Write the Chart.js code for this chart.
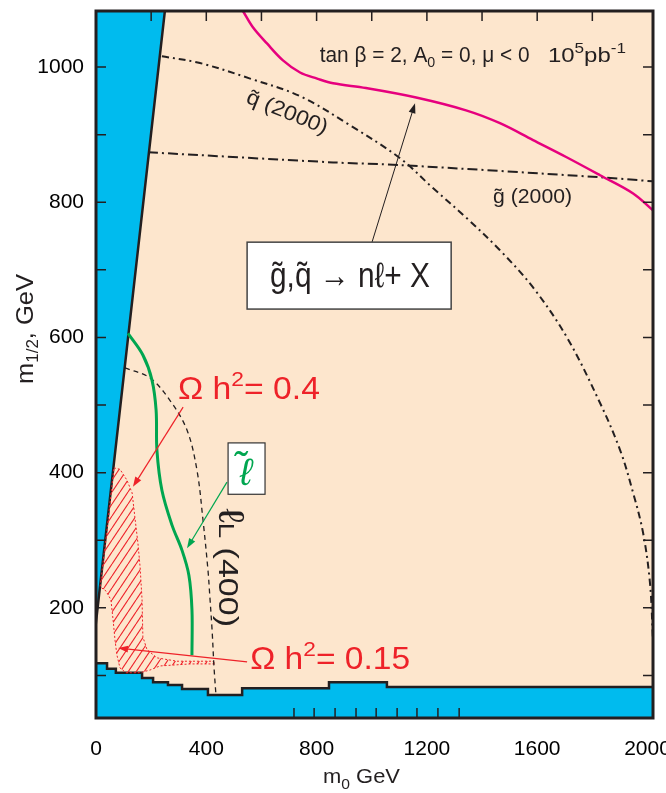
<!DOCTYPE html>
<html>
<head>
<meta charset="utf-8">
<script src="https://cdn.jsdelivr.net/npm/chart.js@4.4.1/dist/chart.umd.min.js"></script>
<style>
html,body{margin:0;padding:0;background:#ffffff;}
canvas{display:block;}
</style>
</head>
<body>
<canvas id="c" width="666" height="793"></canvas>
<script>
// ================= DATA (m0, m1/2 in GeV) =================
const xTickLabels = [0, 400, 800, 1200, 1600, 2000];
const yTickLabels = [200, 400, 600, 800, 1000];
const yMinorTicks = [100, 200, 300, 400, 500, 600, 700, 800, 900, 1000];
const xTopTicks = [200, 400, 600, 800, 1000, 1200, 1400, 1600, 1800];
const xBottomMarks = [718, 791, 867, 943, 1016, 1092, 1164, 1240, 1317];

// excluded region at low m1/2 (stepped boundary)
const lowEdgeM0  = [0, 40, 72, 167, 207, 261, 312, 406, 530, 845, 1055, 2020];
const lowEdgeM12 = [118, 110, 104, 96, 90, 86, 80, 71, 81, 90, 83, 83];

// excluded wedge at small m0
const wedgeM0  = [-8, 260, -60, -60];
const wedgeM12 = [150, 1120, 1120, 150];

// reach contour g~,q~ -> n l + X (10^5 pb^-1)
const reachM0  = [533, 569, 620, 678, 740, 802, 860, 979, 1161, 1342, 1465, 1585, 1705, 1828, 1948, 2020];
const reachM12 = [1083, 1059, 1035, 1010, 992, 983, 976, 969, 955, 936, 917, 892, 867, 840, 813, 788];

// squark mass 2000 GeV contour
const squarkM0  = [239, 377, 559, 740, 921, 1103, 1222, 1346, 1465, 1585, 1708, 1828, 1901, 1948, 1984, 2009, 2020];
const squarkM12 = [1016, 1006, 983, 957, 914, 865, 821, 776, 729, 674, 600, 503, 433, 370, 311, 237, 152];

// gluino mass 2000 GeV contour
const gluinoM0  = [189, 860, 1103, 1828, 2020];
const gluinoM12 = [874, 859, 855, 837, 831];

// slepton l_L mass 400 GeV contour
const sleptonLM0  = [105, 196, 268, 330, 366, 388, 406, 413, 421, 428, 435];
const sleptonLM12 = [555, 540, 507, 463, 404, 330, 256, 216, 167, 112, 71];

// slepton reach contour (green)
const sleptonM0  = [116, 170, 203, 218, 221, 239, 276, 312, 337, 348, 348];
const sleptonM12 = [606, 574, 537, 492, 433, 374, 322, 285, 248, 197, 130];

// relic density band 0.15 < Omega h^2 < 0.4
const relicM0  = [65, 87, 112, 131, 141, 152, 160, 167, 170, 185, 221, 294, 424, 432, 341, 232, 196, 160, 109, 87, 76, 69, 62, 54, 36, 15, 40, 65];
const relicM12 = [407, 405, 389, 370, 334, 296, 260, 212, 157, 138, 126, 121, 121, 117, 117, 114, 108, 104, 104, 111, 130, 152, 182, 212, 225, 231, 315, 407];

// ================= helpers =================
const pts = (xs, ys) => xs.map((x, i) => ({x: x, y: ys[i]}));

function hasFont(name) {
  const c = document.createElement('canvas').getContext('2d');
  const t = 'abcdefghijklmnop 0123456789 WXYZ';
  c.font = '20px monospace'; const a = c.measureText(t).width;
  c.font = "20px '" + name + "', monospace"; const b = c.measureText(t).width;
  return Math.abs(a - b) > 0.5;
}
const NARROW = hasFont('Liberation Sans Narrow');
const TICK_FAM = NARROW ? "'Liberation Sans Narrow', 'Liberation Sans', Arial, sans-serif" : "'Liberation Sans', Arial, sans-serif";
const TICK_SIZE = NARROW ? 22 : 21;
const FAM = "'Liberation Sans', Arial, Helvetica, sans-serif";

const BLUE = '#00bbee';
const PEACH = '#fde6cd';
const PINK = '#e6007e';
const GREEN = '#00a650';
const RED = '#ee2229';
const INK = '#231f20';

const canvas = document.getElementById('c');
const mainCtx = canvas.getContext('2d');

function makeHatch() {
  const c = document.createElement('canvas');
  c.width = 8; c.height = 12;
  const g = c.getContext('2d');
  g.strokeStyle = RED; g.lineWidth = 1.1;
  [-8, 0, 8].forEach(o => { g.beginPath(); g.moveTo(o, 12); g.lineTo(o + 8, 0); g.stroke(); });
  return mainCtx.createPattern(c, 'repeat');
}

function fontStr(p) { return (p.style ? p.style + ' ' : '') + p.s + 'px ' + (p.f || FAM); }
function richWidth(ctx, parts) {
  let w = 0;
  parts.forEach(p => { ctx.font = fontStr(p); w += ctx.measureText(p.t).width; });
  return w;
}
function drawRich(ctx, parts, x, y, o) {
  ctx.save();
  ctx.translate(x, y);
  if (o.angle) ctx.rotate(o.angle * Math.PI / 180);
  const nat = richWidth(ctx, parts);
  const sx = o.width ? o.width / nat : 1;
  ctx.scale(sx, 1);
  let cx = o.align === 'center' ? -nat / 2 : 0;
  ctx.fillStyle = o.color || INK;
  ctx.textAlign = 'left';
  ctx.textBaseline = 'alphabetic';
  parts.forEach(p => {
    ctx.font = fontStr(p);
    ctx.fillText(p.t, cx, p.dy || 0);
    cx += ctx.measureText(p.t).width;
  });
  ctx.restore();
}
function arrow(ctx, x1, y1, x2, y2, color, lw) {
  const a = Math.atan2(y2 - y1, x2 - x1);
  const L = 10, W = 3.5;
  ctx.save();
  ctx.strokeStyle = color; ctx.fillStyle = color; ctx.lineWidth = lw;
  ctx.beginPath(); ctx.moveTo(x1, y1);
  ctx.lineTo(x2 - L * 0.8 * Math.cos(a), y2 - L * 0.8 * Math.sin(a)); ctx.stroke();
  ctx.beginPath();
  ctx.moveTo(x2, y2);
  ctx.lineTo(x2 - L * Math.cos(a) + W * Math.sin(a), y2 - L * Math.sin(a) - W * Math.cos(a));
  ctx.lineTo(x2 - L * Math.cos(a) - W * Math.sin(a), y2 - L * Math.sin(a) + W * Math.cos(a));
  ctx.closePath(); ctx.fill();
  ctx.restore();
}

// annotation placement (data coordinates)
const notes = {
  params:   {m0: 811, m12: 1007, w: 210},
  lumi:     {m0: 1639, m12: 1007, w: 78},
  sqLabel:  {m0: 540, m12: 948, angle: 22, w: 86},
  glLabel:  {m0: 1440, m12: 799, w: 79},
  box:      {m0a: 548, m0b: 1288, m12a: 741, m12b: 642, tm0: 921, tm12: 674, w: 160},
  om04:     {m0: 297, m12: 509, w: 142},
  om015:    {m0: 559, m12: 109.5, w: 160},
  slBox:    {m0a: 479, m0b: 613, m12a: 444, m12b: 368, tm0: 544, tm12: 381},
  slLLabel: {m0: 446, m12: 347.6, w: 119},
  arrows: [
    {a: [1001, 741], b: [1157, 946.5], color: INK, lw: 1},
    {a: [316, 497], b: [134, 379], color: RED, lw: 1.2},
    {a: [548, 120], b: [80, 140.5], color: RED, lw: 1.2},
    {a: [475, 386], b: [330, 288], color: GREEN, lw: 1.2}
  ]
};

const bgPlugin = {
  id: 'bg',
  beforeDatasetsDraw(chart) {
    const {ctx, chartArea: a} = chart;
    ctx.save(); ctx.fillStyle = PEACH;
    ctx.fillRect(a.left, a.top, a.right - a.left, a.bottom - a.top);
    ctx.restore();
  }
};

const decoPlugin = {
  id: 'deco',
  afterDatasetsDraw(chart) {
    const {ctx, chartArea: a} = chart;
    const X = v => chart.scales.x.getPixelForValue(v);
    const Y = v => chart.scales.y.getPixelForValue(v);

    // arrows
    notes.arrows.forEach(r => arrow(ctx, X(r.a[0]), Y(r.a[1]), X(r.b[0]), Y(r.b[1]), r.color, r.lw));

    // texts at the top
    drawRich(ctx, [{t: 'tan β = 2, A', s: 22}, {t: '0', s: 15, dy: 5}, {t: ' = 0, μ < 0', s: 22}],
      X(notes.params.m0), Y(notes.params.m12), {width: notes.params.w});
    drawRich(ctx, [{t: '10', s: 21}, {t: '5', s: 15, dy: -9}, {t: 'pb', s: 21}, {t: '-1', s: 15, dy: -9}],
      X(notes.lumi.m0), Y(notes.lumi.m12), {width: notes.lumi.w});

    // contour labels
    drawRich(ctx, [{t: 'q̃ (2000)', s: 21}], X(notes.sqLabel.m0), Y(notes.sqLabel.m12),
      {angle: notes.sqLabel.angle, width: notes.sqLabel.w});
    drawRich(ctx, [{t: 'g̃ (2000)', s: 21}], X(notes.glLabel.m0), Y(notes.glLabel.m12), {width: notes.glLabel.w});

    // boxed reach label
    const b = notes.box;
    ctx.save();
    ctx.fillStyle = '#ffffff'; ctx.strokeStyle = '#444'; ctx.lineWidth = 1.5;
    ctx.fillRect(X(b.m0a), Y(b.m12a), X(b.m0b) - X(b.m0a), Y(b.m12b) - Y(b.m12a));
    ctx.strokeRect(X(b.m0a), Y(b.m12a), X(b.m0b) - X(b.m0a), Y(b.m12b) - Y(b.m12a));
    ctx.restore();
    drawRich(ctx, [{t: 'g̃,q̃ → nℓ+ X', s: 35}], X(b.tm0), Y(b.tm12), {width: b.w, align: 'center'});

    // relic density labels
    drawRich(ctx, [{t: 'Ω h', s: 31}, {t: '2', s: 21, dy: -13}, {t: '= 0.4', s: 31}],
      X(notes.om04.m0), Y(notes.om04.m12), {width: notes.om04.w, color: RED});
    drawRich(ctx, [{t: 'Ω h', s: 31}, {t: '2', s: 21, dy: -13}, {t: '= 0.15', s: 31}],
      X(notes.om015.m0), Y(notes.om015.m12), {width: notes.om015.w, color: RED});

    // slepton box
    const s = notes.slBox;
    ctx.save();
    ctx.fillStyle = '#ffffff'; ctx.strokeStyle = '#333'; ctx.lineWidth = 1.2;
    ctx.fillRect(X(s.m0a), Y(s.m12a), X(s.m0b) - X(s.m0a), Y(s.m12b) - Y(s.m12a));
    ctx.strokeRect(X(s.m0a), Y(s.m12a), X(s.m0b) - X(s.m0a), Y(s.m12b) - Y(s.m12a));
    ctx.restore();
    drawRich(ctx, [{t: 'ℓ̃', s: 38, style: 'italic'}], X(s.tm0), Y(s.tm12), {align: 'center', color: GREEN});

    // l_L (400) rotated label
    drawRich(ctx, [{t: 'ℓ', s: 36}, {t: 'L', s: 22}, {t: ' (400)', s: 27}],
      X(notes.slLLabel.m0), Y(notes.slLLabel.m12), {angle: 90, width: notes.slLLabel.w});

    // inward tick marks
    ctx.save();
    ctx.strokeStyle = INK; ctx.lineWidth = 1.5;
    ctx.beginPath();
    yMinorTicks.forEach(v => {
      const py = Y(v);
      ctx.moveTo(a.left, py); ctx.lineTo(a.left + 10, py);
      ctx.moveTo(a.right, py); ctx.lineTo(a.right - 10, py);
    });
    xTopTicks.forEach(v => { const px = X(v); ctx.moveTo(px, a.top); ctx.lineTo(px, a.top + 10); });
    xBottomMarks.forEach(v => { const px = X(v); ctx.moveTo(px, a.bottom); ctx.lineTo(px, a.bottom - 10); });
    ctx.stroke();
    // frame
    ctx.lineWidth = 3;
    ctx.strokeRect(a.left, a.top, a.right - a.left, a.bottom - a.top);
    ctx.restore();

    // axis titles
    drawRich(ctx, [{t: 'm', s: 24}, {t: '1/2', s: 16, dy: 5}, {t: ', GeV', s: 24}], 33, 384, {angle: -90, width: 110});
    drawRich(ctx, [{t: 'm', s: 21}, {t: '0', s: 15, dy: 6}, {t: ' GeV', s: 21}], 323, 783, {width: 77});
  }
};

const hatch = makeHatch();

new Chart(canvas, {
  type: 'line',
  data: {
    datasets: [
      {label: 'reach', data: pts(reachM0, reachM12), borderColor: PINK, borderWidth: 2.5, tension: 0.35, fill: false},
      {label: 'squark 2000', data: pts(squarkM0, squarkM12), borderColor: INK, borderWidth: 2, borderDash: [7, 4, 2, 4], tension: 0.35, fill: false},
      {label: 'gluino 2000', data: pts(gluinoM0, gluinoM12), borderColor: INK, borderWidth: 2, borderDash: [10, 4, 2, 4], tension: 0.3, fill: false},
      {label: 'slepton', data: pts(sleptonM0, sleptonM12), borderColor: GREEN, borderWidth: 3, tension: 0.35, fill: false},
      {label: 'slepton L 400', data: pts(sleptonLM0, sleptonLM12), borderColor: INK, borderWidth: 1.3, borderDash: [5, 4], tension: 0.35, fill: false},
      {label: 'relic band', data: pts(relicM0, relicM12), borderColor: RED, borderWidth: 1, borderDash: [2, 2], backgroundColor: hatch, tension: 0, fill: 'shape'},
      {label: 'excluded wedge', data: pts(wedgeM0, wedgeM12), borderColor: INK, borderWidth: 2.5, backgroundColor: BLUE, tension: 0, fill: 'shape'},
      {label: 'excluded low', data: pts(lowEdgeM0, lowEdgeM12), borderColor: INK, borderWidth: 2.5, backgroundColor: BLUE, stepped: true, fill: 'start'}
    ]
  },
  options: {
    responsive: false,
    animation: false,
    devicePixelRatio: 1,
    layout: {padding: {left: 0, right: 13, top: 11, bottom: 0}},
    elements: {point: {radius: 0, hoverRadius: 0}},
    plugins: {legend: {display: false}, tooltip: {enabled: false}, title: {display: false}},
    scales: {
      x: {
        type: 'linear', position: 'bottom', min: 0, max: 2020,
        afterBuildTicks: s => { s.ticks = xTickLabels.map(v => ({value: v})); },
        afterFit: s => { s.height = 75; s.paddingLeft = 0; s.paddingRight = 0; },
        grid: {display: false, drawTicks: false},
        border: {display: false},
        ticks: {font: {family: TICK_FAM, size: TICK_SIZE}, color: '#000', padding: 19, maxRotation: 0, autoSkip: false, callback: v => String(v)}
      },
      y: {
        type: 'linear', position: 'left', min: 37, max: 1083,
        afterBuildTicks: s => { s.ticks = yTickLabels.map(v => ({value: v})); },
        afterFit: s => { s.width = 96; s.paddingTop = 0; s.paddingBottom = 0; },
        grid: {display: false, drawTicks: false},
        border: {display: false},
        ticks: {font: {family: TICK_FAM, size: TICK_SIZE}, color: '#000', padding: 12, autoSkip: false, callback: v => String(v)}
      }
    }
  },
  plugins: [bgPlugin, decoPlugin]
});
</script>
</body>
</html>
